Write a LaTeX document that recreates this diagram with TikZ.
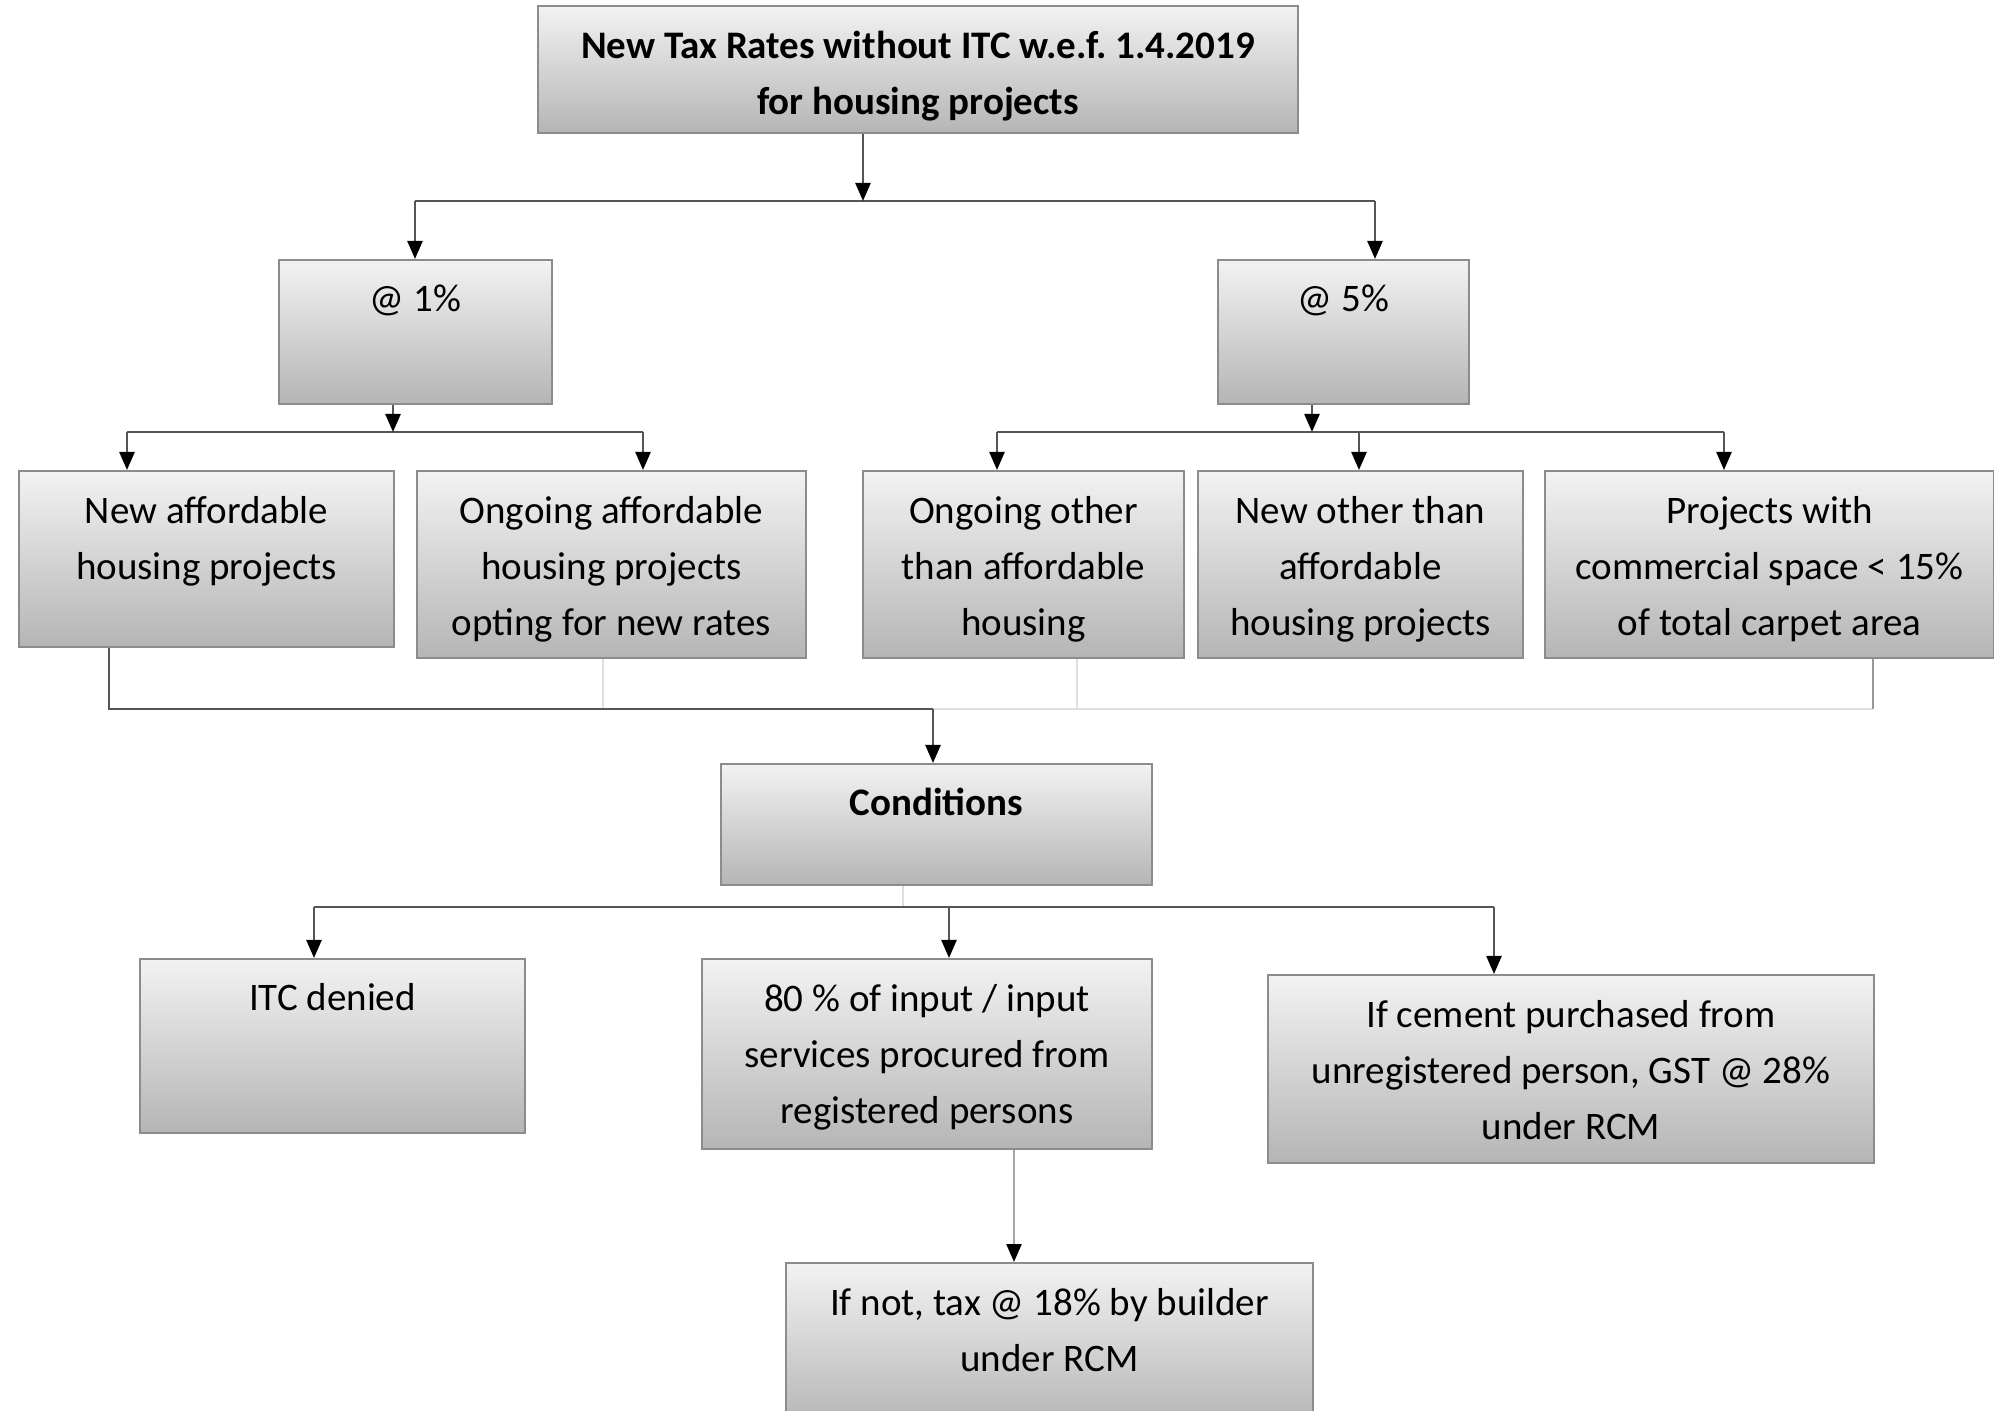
\documentclass[tikz,border=0pt]{standalone}
\usepackage{fontspec}
\setmainfont{Carlito}
\usetikzlibrary{arrows.meta}
\definecolor{lnk}{HTML}{555555}
\definecolor{boxline}{HTML}{8C8C8C}
\frenchspacing
\tikzset{
  box/.style={draw=boxline, line width=1pt, top color=gray!10, bottom color=gray!58,
    anchor=north west, inner sep=0pt},
  txt/.style={anchor=north, yshift=-13pt, align=center, inner sep=0pt,
    font=\fontsize{19.5}{28}\selectfont, execute at begin node=\strut},
  txtone/.style={txt, yshift=6.5pt},
  txtb/.style={txt, font=\fontsize{19.5}{28}\selectfont\bfseries},
  txtbone/.style={txtb, yshift=6.5pt},
  lnk/.style={draw=lnk, line width=1.2pt},
  faint/.style={draw=gray!25, line width=1.2pt},
  arr/.style={lnk, -{Triangle[width=7.5pt,length=9pt,color=black]}},
}
\begin{document}
\begin{tikzpicture}[x=0.5pt,y=-0.5pt]
\clip (0,0) rectangle (1994,1411);
\fill[white] (0,0) rectangle (1994,1411);

% boxes
\node[box, minimum width=380pt, minimum height=63.5pt,
  label={[txtb]north:New Tax Rates without ITC w.e.f. 1.4.2019\\for housing projects}] (top) at (537,5) {};
\node[box, minimum width=136.5pt, minimum height=72pt,
  label={[txtone]north:@ 1\%}] (r1) at (278,259) {};
\node[box, minimum width=125.5pt, minimum height=72pt,
  label={[txtone]north:@ 5\%}] (r5) at (1217,259) {};
\node[box, minimum width=187.5pt, minimum height=88pt,
  label={[txt]north:New affordable\\housing projects}] (na) at (18,470) {};
\node[box, minimum width=194.5pt, minimum height=93.5pt,
  label={[txt]north:Ongoing affordable\\housing projects\\opting for new rates}] (oa) at (416,470) {};
\node[box, minimum width=160.5pt, minimum height=93.5pt,
  label={[txt]north:Ongoing other\\than affordable\\housing}] (oo) at (862,470) {};
\node[box, minimum width=162.5pt, minimum height=93.5pt,
  label={[txt]north:New other than\\affordable\\housing projects}] (no) at (1197,470) {};
\node[box, minimum width=224.5pt, minimum height=93.5pt,
  label={[txt]north:Projects with\\commercial space < 15\%\\of total carpet area}] (pc) at (1544,470) {};
\node[box, minimum width=215.5pt, minimum height=60.5pt,
  label={[txtbone]north:Conditions}] (cond) at (720,763) {};
\node[box, minimum width=192.5pt, minimum height=87pt,
  label={[txtone]north:ITC denied}] (itc) at (139,958) {};
\node[box, minimum width=225pt, minimum height=95pt,
  label={[txt]north:80 \% of input / input\\services procured from\\registered persons}] (eighty) at (701,958) {};
\node[box, minimum width=303pt, minimum height=94pt,
  label={[txt]north:If cement purchased from\\unregistered person, GST @ 28\%\\under RCM}] (cement) at (1267,974) {};
\node[box, minimum width=263.5pt, minimum height=82pt,
  label={[txt]north:If not, tax @ 18\% by builder\\under RCM}] (ifnot) at (785,1262) {};

% top split
\coordinate (s0) at (863,201);
\coordinate (s0l) at (415,201);
\coordinate (s0r) at (1375,201);
\draw[lnk] (s0l) -- (s0r);
\draw[arr] (top.south -| s0) -- (s0);
\draw[arr] (s0l) -- (s0l |- r1.north);
\draw[arr] (s0r) -- (s0r |- r5.north);

% 1% branch
\coordinate (s1) at (393,432);
\coordinate (s1l) at (127,432);
\coordinate (s1r) at (643,432);
\draw[lnk] (s1l) -- (s1r);
\draw[arr] (r1.south -| s1) -- (s1);
\draw[arr] (s1l) -- (s1l |- na.north);
\draw[arr] (s1r) -- (s1r |- oa.north);

% 5% branch
\coordinate (s2) at (1312,432);
\coordinate (s2l) at (997,432);
\coordinate (s2m) at (1359,432);
\coordinate (s2r) at (1724,432);
\draw[lnk] (s2l) -- (s2r);
\draw[arr] (r5.south -| s2) -- (s2);
\draw[arr] (s2l) -- (s2l |- oo.north);
\draw[arr] (s2m) -- (s2m |- no.north);
\draw[arr] (s2r) -- (s2r |- pc.north);

% projects merging into the conditions
\coordinate (m1) at (109,709);
\coordinate (m2) at (933,709);
\coordinate (m3) at (603,709);
\coordinate (m4) at (1077,709);
\coordinate (m5) at (1873,709);
\draw[faint] (m2) -- (m5);
\draw[faint] (oa.south -| m3) -- (m3);
\draw[faint] (oo.south -| m4) -- (m4);
\draw[lnk, draw=gray!80] (pc.south -| m5) -- (m5);
\draw[lnk] (na.south -| m1) -- (m1) -- (m2);
\draw[arr] (m2) -- (m2 |- cond.north);

% conditions split
\coordinate (c0) at (903,907);
\coordinate (c1) at (314,907);
\coordinate (c2) at (949,907);
\coordinate (c3) at (1494,907);
\draw[faint] (cond.south -| c0) -- (c0);
\draw[lnk] (c1) -- (c3);
\draw[arr] (c1) -- (c1 |- itc.north);
\draw[arr] (c2) -- (c2 |- eighty.north);
\draw[arr] (c3) -- (c3 |- cement.north);

% otherwise
\coordinate (e0) at (1014,1148);
\draw[arr, draw=gray!70] (eighty.south -| e0) -- (e0 |- ifnot.north);
\end{tikzpicture}
\end{document}
